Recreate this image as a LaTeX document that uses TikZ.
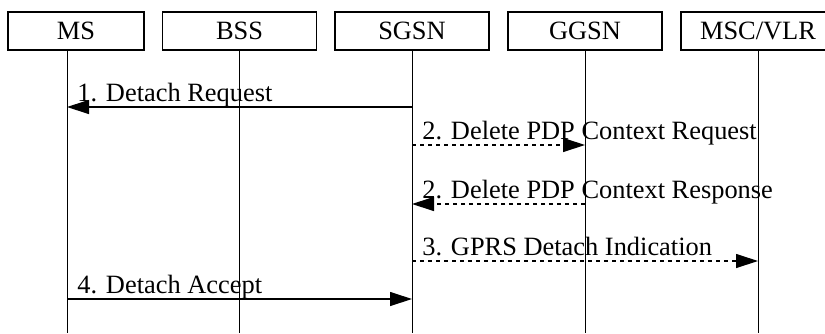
\documentclass[tikz,border=0pt]{standalone}
\usepackage{fontspec}
\setmainfont{Liberation Serif}
\usetikzlibrary{arrows.meta}
\tikzset{
    ent/.style={draw, line width=0.7pt, minimum width=77pt, minimum height=19pt, inner sep=0pt, font=\fontsize{13.2}{15}\selectfont},
    life/.style={line width=0.5pt},
    msg/.style={line width=0.6pt, -{Triangle[length=11pt,width=7pt]}},
    opt/.style={msg, dash pattern=on 2pt off 2pt},
    lbl/.style={anchor=base west, inner sep=0pt, font=\fontsize{13.2}{15}\selectfont}
}

\begin{document}
\begin{tikzpicture}[x=0.5pt,y=-0.5pt]
\clip (0,0) rectangle (825,333);

% entities
\node[ent, minimum width=68pt] at (76,31) (ms) {MS};
\node[ent] at (239.5,31) (bss) {BSS};
\node[ent] at (412,31) (sgsn) {SGSN};
\node[ent] at (585,31) (ggsn) {GGSN};
\node[ent] at (758,31) (msc) {MSC/VLR};

% lifelines
\coordinate (msend) at (67,333);
\coordinate (bssend) at (239.5,333);
\coordinate (sgsnend) at (412,333);
\coordinate (ggsnend) at (585,333);
\coordinate (mscend) at (758,333);
\draw[life] (ms.south -| msend) -- (msend);
\draw[life] (bss.south) -- (bssend);
\draw[life] (sgsn.south) -- (sgsnend);
\draw[life] (ggsn.south) -- (ggsnend);
\draw[life] (msc.south) -- (mscend);

% 1
\coordinate (ms1) at (67,107);
\coordinate (sgsn1) at (412,107);
\draw[msg] (sgsn1) -- (ms1);
\path (ms1) ++(10,-6) node[lbl] (l1) {1. Detach Request};

% 2
\coordinate (sgsn2) at (412,145);
\coordinate (ggsn2) at (585,145);
\draw[opt] (sgsn2) -- (ggsn2);
\path (sgsn2) ++(10,-6) node[lbl] (l2) {2. Delete PDP Context Request};

\coordinate (sgsn3) at (412,204);
\coordinate (ggsn3) at (585,204);
\draw[opt] (ggsn3) -- (sgsn3);
\path (sgsn3) ++(10,-6) node[lbl] (l3) {2. Delete PDP Context Response};

% 3
\coordinate (sgsn4) at (412,261);
\coordinate (msc4) at (758,261);
\draw[opt] (sgsn4) -- (msc4);
\path (sgsn4) ++(10,-6) node[lbl] (l4) {3. GPRS Detach Indication};

% 4
\coordinate (ms5) at (67,299);
\coordinate (sgsn5) at (412,299);
\draw[msg] (ms5) -- (sgsn5);
\path (ms5) ++(10,-6) node[lbl] (l5) {4. Detach Accept};
\end{tikzpicture}
\end{document}
